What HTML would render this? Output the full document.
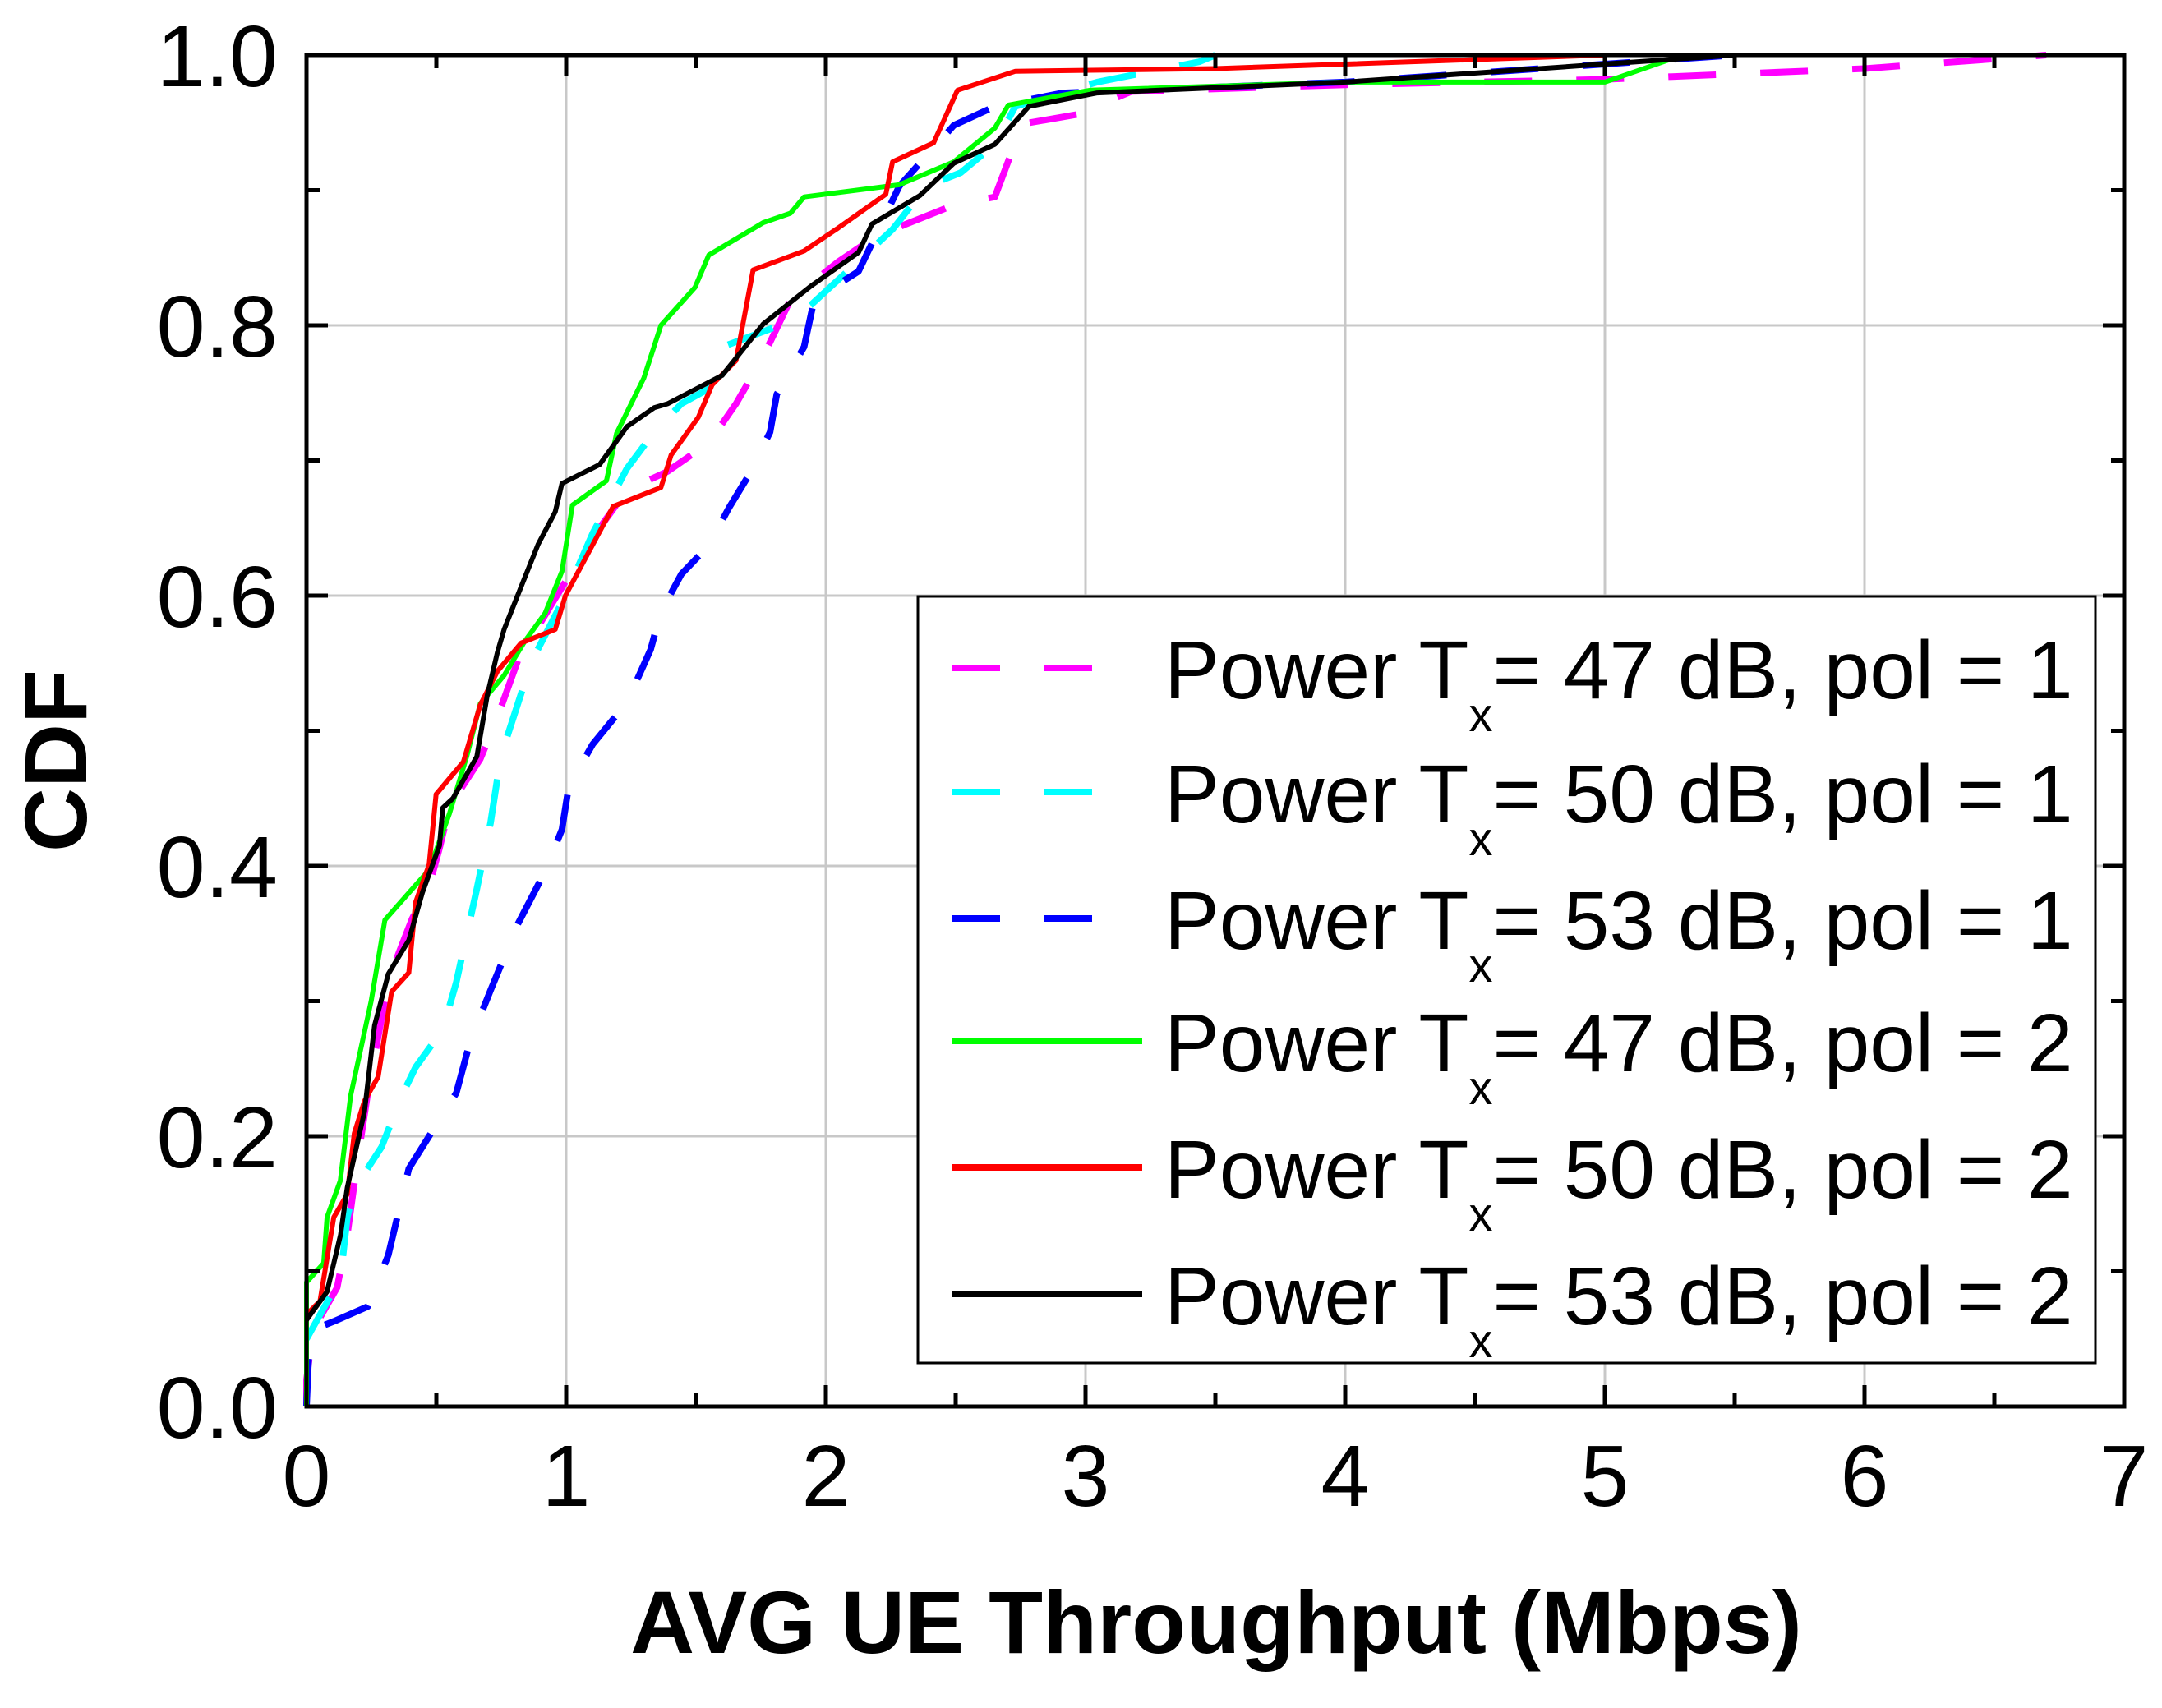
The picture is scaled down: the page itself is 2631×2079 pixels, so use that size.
<!DOCTYPE html>
<html><head><meta charset="utf-8"><style>
html,body{margin:0;padding:0;background:#fff;}
svg{display:block;font-family:"Liberation Sans",Arial,sans-serif;}
</style></head><body>
<svg id="chart" width="2631" height="2079" viewBox="0 0 2631 2079" xmlns="http://www.w3.org/2000/svg">
<g id="grid"></g>
<g id="series"></g>
<g id="axes"></g>
<text x="1480" y="2012" font-size="108" font-weight="bold" text-anchor="middle">AVG UE Throughput (Mbps)</text>
<text transform="translate(105,926) rotate(-90)" font-size="108" font-weight="bold" text-anchor="middle">CDF</text>
<g id="legend"></g>
</svg>
<script>
const xTicks=[0,1,2,3,4,5,6,7];
const yTicks=[0,0.2,0.4,0.6,0.8,1.0];
const yTickLabels=["0.0","0.2","0.4","0.6","0.8","1.0"];
const seriesNames=["Power Tx= 47 dB, pol = 1","Power Tx= 50 dB, pol = 1","Power Tx= 53 dB, pol = 1","Power Tx= 47 dB, pol = 2","Power Tx= 50 dB, pol = 2","Power Tx= 53 dB, pol = 2"];
const legendPower=["47","50","53","47","50","53"];
const legendPol=["1","1","1","2","2","2"];
const magenta47pol1=[[0,0],[0,0.02],[0.026,0.057],[0.118,0.088],[0.157,0.127],[0.197,0.183],[0.236,0.232],[0.289,0.287],[0.328,0.322],[0.407,0.361],[0.472,0.385],[0.512,0.413],[0.551,0.444],[0.669,0.479],[0.735,0.51],[0.814,0.552],[0.945,0.594],[1.102,0.643],[1.234,0.678],[1.391,0.692],[1.549,0.713],[1.654,0.742],[1.759,0.777],[1.864,0.819],[2.047,0.847],[2.178,0.864],[2.31,0.875],[2.493,0.889],[2.651,0.895],[2.756,0.949],[2.966,0.956],[3.176,0.973],[4,0.978],[5,0.982],[6,0.99],[6.7,1.0]];
const cyan50pol1=[[0,0.05],[0.131,0.095],[0.157,0.14],[0.184,0.161],[0.289,0.192],[0.367,0.23],[0.42,0.251],[0.525,0.279],[0.577,0.314],[0.656,0.383],[0.709,0.432],[0.748,0.481],[0.814,0.52],[0.866,0.551],[0.997,0.6],[1.102,0.646],[1.234,0.694],[1.339,0.721],[1.444,0.742],[1.549,0.753],[1.601,0.784],[1.837,0.801],[1.942,0.815],[2.1,0.843],[2.257,0.871],[2.388,0.903],[2.52,0.913],[2.651,0.934],[2.73,0.962],[3.045,0.98],[3.438,0.995],[3.5,1.0]];
const blue53pol1=[[0,0],[0.013,0.056],[0.105,0.063],[0.236,0.074],[0.315,0.112],[0.394,0.176],[0.472,0.2],[0.577,0.232],[0.63,0.27],[0.709,0.308],[0.814,0.357],[0.919,0.396],[0.984,0.427],[1.01,0.459],[1.102,0.49],[1.234,0.521],[1.325,0.56],[1.365,0.588],[1.444,0.616],[1.549,0.637],[1.627,0.665],[1.706,0.69],[1.785,0.721],[1.811,0.749],[1.916,0.784],[1.955,0.819],[2.126,0.84],[2.283,0.903],[2.493,0.948],[2.651,0.962],[2.913,0.972],[4,0.98],[5.5,1.0]];
const green47pol2=[[0,0],[0,0.092],[0.066,0.106],[0.079,0.14],[0.13,0.167],[0.17,0.23],[0.249,0.3],[0.302,0.36],[0.472,0.397],[0.551,0.439],[0.617,0.481],[0.669,0.52],[0.761,0.541],[0.84,0.566],[0.919,0.587],[0.984,0.618],[1.024,0.667],[1.155,0.685],[1.194,0.72],[1.299,0.761],[1.365,0.8],[1.496,0.828],[1.549,0.852],[1.759,0.876],[1.864,0.883],[1.916,0.895],[2.283,0.904],[2.493,0.921],[2.651,0.946],[2.703,0.963],[3.018,0.974],[4,0.98],[5,0.98],[5.3,1.0]];
const red50pol2=[[0,0.068],[0.052,0.078],[0.105,0.14],[0.157,0.157],[0.184,0.202],[0.223,0.226],[0.276,0.244],[0.328,0.307],[0.394,0.321],[0.42,0.373],[0.472,0.401],[0.499,0.453],[0.604,0.477],[0.669,0.519],[0.735,0.544],[0.827,0.565],[0.958,0.575],[0.997,0.6],[1.181,0.666],[1.365,0.68],[1.404,0.704],[1.509,0.732],[1.562,0.756],[1.654,0.774],[1.72,0.841],[1.916,0.855],[2.047,0.872],[2.231,0.897],[2.257,0.921],[2.415,0.935],[2.507,0.974],[2.73,0.988],[3.5,0.99],[5,1.0]];
const black53pol2=[[0,0.064],[0.079,0.085],[0.131,0.127],[0.157,0.162],[0.223,0.218],[0.262,0.282],[0.315,0.32],[0.394,0.345],[0.446,0.38],[0.512,0.415],[0.525,0.443],[0.564,0.45],[0.656,0.481],[0.696,0.526],[0.735,0.558],[0.761,0.575],[0.84,0.613],[0.892,0.638],[0.958,0.662],[0.984,0.683],[1.129,0.697],[1.234,0.725],[1.339,0.739],[1.391,0.742],[1.601,0.763],[1.759,0.801],[1.942,0.829],[2.126,0.854],[2.178,0.875],[2.362,0.896],[2.493,0.92],[2.651,0.934],[2.782,0.962],[3.045,0.972],[4,0.98],[5.5,1.0]];

const NS="http://www.w3.org/2000/svg";
const L=373,R=2585,T=67,B=1712;
function sx(v){return L+(v-0)/(7-0)*(R-L);}
function sy(v){return B-(v-0)/(1-0)*(B-T);}
function mk(tag,attrs,parent){const e=document.createElementNS(NS,tag);for(const k in attrs)e.setAttribute(k,attrs[k]);parent.appendChild(e);return e;}
const grid=document.getElementById('grid'),axes=document.getElementById('axes'),ser=document.getElementById('series'),leg=document.getElementById('legend');
xTicks.forEach((t,i)=>{
  if(t>0&&t<7){const g=mk('line',{x1:sx(t),x2:sx(t),y1:T,y2:B,stroke:'#c8c8c8','stroke-width':3},grid);
  
  }
  const tx=mk('text',{x:sx(t),y:1833,'font-size':106,'text-anchor':'middle'},axes);tx.textContent=String(t);
  
  
});
yTicks.forEach((t,i)=>{
  if(t>0&&t<1){const g=mk('line',{x1:L,x2:R,y1:sy(t),y2:sy(t),stroke:'#c8c8c8','stroke-width':3},grid);
  
  }
  const tx=mk('text',{x:338,y:sy(t)+38,'font-size':106,'text-anchor':'end'},axes);tx.textContent=yTickLabels[i];
  
  
});
for(let v=0;v<=7.001;v+=0.5){const len=(Math.abs(v-Math.round(v))<0.01)?26:16;
  mk('line',{x1:sx(v),x2:sx(v),y1:B,y2:B-len,stroke:'#000','stroke-width':5},axes);
  mk('line',{x1:sx(v),x2:sx(v),y1:T,y2:T+len,stroke:'#000','stroke-width':5},axes);}
for(let v=0;v<=1.001;v+=0.1){const len=(Math.round(v*10)%2===0)?26:16;
  mk('line',{x1:L,x2:L+len,y1:sy(v),y2:sy(v),stroke:'#000','stroke-width':5},axes);
  mk('line',{x1:R,x2:R-len,y1:sy(v),y2:sy(v),stroke:'#000','stroke-width':5},axes);}
const frame=mk('rect',{x:L,y:T,width:R-L,height:B-T,fill:'none',stroke:'#000','stroke-width':5},axes);


const allSeries=[magenta47pol1,cyan50pol1,blue53pol1,green47pol2,red50pol2,black53pol2];
const colors=['#ff00ff','#00ffff','#0000ff','#00ff00','#ff0000','#000000'];
const dashed=[true,true,true,false,false,false];
const snames=['series-47db-pol1','series-50db-pol1','series-53db-pol1','series-47db-pol2','series-50db-pol2','series-53db-pol2'];
allSeries.forEach((d,i)=>{
  const p=mk('polyline',{points:d.map(q=>sx(q[0]).toFixed(1)+','+sy(q[1]).toFixed(1)).join(' '),fill:'none',stroke:colors[i],'stroke-width':dashed[i]?8:6,'stroke-dasharray':dashed[i]?'58 54':'none','stroke-linejoin':'round'},ser);
  
  
});
const box=mk('rect',{x:1117,y:726,width:1433,height:933,fill:'#fff',stroke:'#000','stroke-width':3},leg);


const rowY=[813,964,1118,1267,1421,1575];
rowY.forEach((y,i)=>{
  const ln=mk('line',{x1:1159,x2:1390,y1:y,y2:y,stroke:colors[i],'stroke-width':8,'stroke-dasharray':dashed[i]?'58 54 58 200':'none'},leg);
  
  
  const tx=mk('text',{x:1417,y:y+37,'font-size':100},leg);
  
  
  tx.appendChild(document.createTextNode('Power T'));
  const sub=mk('tspan',{'font-size':58,dy:40},tx);sub.textContent='x';
  const rest=mk('tspan',{dy:-40},tx);rest.textContent='= '+legendPower[i]+' dB, pol = '+legendPol[i];
});
</script>
</body></html>
